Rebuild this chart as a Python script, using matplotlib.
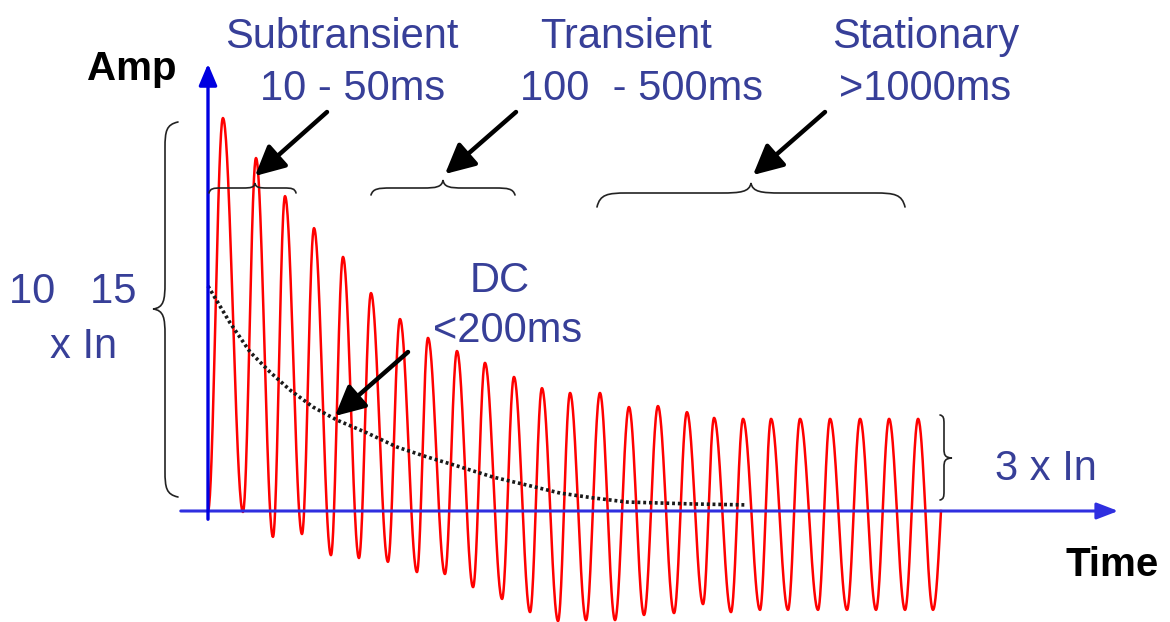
import numpy as np
import matplotlib
matplotlib.use("Agg")
import matplotlib.pyplot as plt
from matplotlib.path import Path
from matplotlib.patches import PathPatch, FancyArrowPatch

# ---- Short-circuit current: extrema of the waveform (time in ms, amplitude in x In) ----
peak_t = [10.3, 33.1, 53.1, 73.1, 93.1, 112.4, 132.4, 151.7, 171.7, 191.0, 211.0, 230.3,
          249.7, 270.3, 290.3, 310.3, 330.3, 349.0, 369.0, 388.3, 408.3, 429.0, 449.7,
          469.7, 489.7]
peak_a = [12.28, 11.03, 9.84, 8.84, 7.94, 6.81, 6.00, 5.41, 5.00, 4.63, 4.19, 3.84,
          3.69, 3.69, 3.25, 3.28, 3.09, 2.91, 2.88, 2.88, 2.88, 2.88, 2.88, 2.88, 2.88]
trough_t = [24.1, 44.8, 64.8, 84.8, 104.1, 124.1, 144.1, 163.4, 182.8, 202.8, 222.1,
            241.4, 260.7, 280.7, 300.7, 321.4, 341.4, 360.7, 380.7, 400.0, 420.7, 440.7,
            460.7, 480.7, 500.0]
trough_a = [-0.03, -0.81, -0.72, -1.38, -1.47, -1.59, -1.91, -1.97, -2.38, -2.75, -3.16,
            -3.44, -3.41, -3.41, -3.25, -3.19, -2.91, -3.16, -3.09, -3.09, -3.09, -3.09,
            -3.09, -3.09, -3.09]
start_t, start_a = 0.0, 0.0
end_t, end_a = 505.5, 0.0

# ---- DC component (dotted decay) ----
dc_t = [0.0, 15.2, 29.0, 42.8, 56.6, 72.4, 89.0, 109.7, 130.3, 151.0, 171.7, 196.6,
        220.0, 242.8, 265.5, 289.0, 311.7, 334.5, 371.7]
dc_a = [7.03, 5.88, 4.97, 4.34, 3.78, 3.25, 2.84, 2.44, 2.00, 1.69, 1.41, 1.06,
        0.81, 0.56, 0.41, 0.28, 0.25, 0.22, 0.19]

# ---- Labels ----
phase_names = ["Subtransient", "Transient", "Stationary"]
phase_times = ["10 - 50ms", "100  - 500ms", ">1000ms"]
dc_label = ["DC", "<200ms"]
peak_label = ["10   15", "x In"]
steady_label = "3 x In"

TEXT_BLUE = "#373f98"
FONT = "Liberation Sans"

W, H = 1170, 622
fig = plt.figure(figsize=(W / 100, H / 100), dpi=100)
fig.patch.set_facecolor("white")

# data axes: ms on x, multiples of In on y
MS_PX, UNIT_PX = 1.45, 32.0
X0, Y0 = 208.0, 511.0
ax = fig.add_axes([0, 0, 1, 1])
ax.set_xlim(-X0 / MS_PX, (W - X0) / MS_PX)
ax.set_ylim(-(H - Y0) / UNIT_PX, Y0 / UNIT_PX)
ax.axis("off")

# overlay in pixel units for annotation graphics
ov = fig.add_axes([0, 0, 1, 1], facecolor="none")
ov.set_xlim(0, W)
ov.set_ylim(H, 0)
ov.axis("off")

# ---- waveform: cosine-shaped strokes between successive extrema ----
knots_t = [start_t]
knots_a = [start_a]
for pt, pa, tt, ta in zip(peak_t, peak_a, trough_t, trough_a):
    knots_t += [pt, tt]
    knots_a += [pa, ta]
wave_t, wave_a = [], []
for i in range(len(knots_t) - 1):
    s = np.linspace(0, 1, 40)
    t0, t1, a0, a1 = knots_t[i], knots_t[i + 1], knots_a[i], knots_a[i + 1]
    wave_t.append(t0 + s * (t1 - t0))
    wave_a.append(a0 + (a1 - a0) * (1 - np.cos(np.pi * s)) / 2)
s = np.linspace(0, 1, 20)
wave_t.append(knots_t[-1] + s * (end_t - knots_t[-1]))
wave_a.append(knots_a[-1] + (end_a - knots_a[-1]) * (1 - np.cos(np.pi * s / 2)))
wave_t = np.concatenate(wave_t)
wave_a = np.concatenate(wave_a)

# ---- axes arrows (blue) ----
ov.add_patch(FancyArrowPatch((178, 511), (1121, 511), arrowstyle="-|>,head_length=13,head_width=5",
                             mutation_scale=1, color="#2f2fe0", lw=2.2, zorder=2))
ov.add_patch(FancyArrowPatch((208, 522), (208, 61), arrowstyle="-|>,head_length=13,head_width=5.5",
                             mutation_scale=1, color="#0000e0", lw=2.4, zorder=2))

ax.plot(wave_t, wave_a, color="#ff0000", lw=1.8, zorder=3, solid_joinstyle="round")
ax.plot(dc_t, dc_a, color="#1a1a1a", lw=2.6, ls=(0, (0.8, 0.8)), zorder=4)


# ---- curly braces ----
def brace(u0, u1, um, he, ht, r, mapper, lw=1.2):
    L = u1 - u0
    m = um - u0
    pts = [(0, -he),
           (r * 0.1, -he * 0.1), (r * 0.35, 0), (r, 0),
           (m - r, 0),
           (m - r * 0.35, 0), (m - r * 0.05, ht * 0.1), (m, ht),
           (m + r * 0.05, ht * 0.1), (m + r * 0.35, 0), (m + r, 0),
           (L - r, 0),
           (L - r * 0.35, 0), (L - r * 0.1, -he * 0.1), (L, -he)]
    codes = [Path.MOVETO,
             Path.CURVE4, Path.CURVE4, Path.CURVE4,
             Path.LINETO,
             Path.CURVE4, Path.CURVE4, Path.CURVE4,
             Path.CURVE4, Path.CURVE4, Path.CURVE4,
             Path.LINETO,
             Path.CURVE4, Path.CURVE4, Path.CURVE4]
    verts = [mapper(u0 + u, v) for u, v in pts]
    ov.add_patch(PathPatch(Path(verts, codes), fill=False, color="#222222", lw=lw,
                           capstyle="round", zorder=5))


# horizontal braces opening downward, tip pointing up
brace(209, 296, 255, 5, 5, 12, lambda u, v: (u, 188 - v))
brace(371, 515, 443, 7, 8, 20, lambda u, v: (u, 188 - v))
brace(597, 905, 751, 14, 10, 30, lambda u, v: (u, 193 - v))
# vertical braces
brace(122, 497, 309, 13, 12, 26, lambda u, v: (165 - v, u))
brace(415, 500, 458, 4, 8, 9, lambda u, v: (944 + v, u))

# ---- black pointer arrows ----
for (x1, y1), (x2, y2) in [((327, 112), (255, 176)),
                           ((516, 112), (445, 174)),
                           ((825, 112), (753, 175)),
                           ((408, 352), (335, 416))]:
    ov.add_patch(FancyArrowPatch((x1, y1), (x2, y2),
                                 arrowstyle="-|>,head_length=18,head_width=9",
                                 mutation_scale=1, color="black", lw=3.2,
                                 shrinkA=0, shrinkB=0, zorder=6))

# ---- text ----
kw = dict(family=FONT, fontsize=30, color=TEXT_BLUE, ha="center", va="baseline", zorder=7)
for name, when, xn, xw in zip(phase_names, phase_times, [342, 626, 926], [353, 641, 925]):
    ov.text(xn, 48, name, **kw)
    ov.text(xw, 100, when, **kw)
ov.text(500, 292, dc_label[0], **kw)
ov.text(508, 342, dc_label[1], **kw)
ov.text(73, 303, peak_label[0], **kw)
ov.text(84, 358, peak_label[1], **kw)
ov.text(1046, 480, steady_label, **kw)
ov.text(132, 80, "Amp", family=FONT, fontsize=29, fontweight="bold", color="black",
        ha="center", va="baseline")
ov.text(1112, 576, "Time", family=FONT, fontsize=29, fontweight="bold", color="black",
        ha="center", va="baseline")

fig.savefig("out.png", dpi=100, facecolor="white")
